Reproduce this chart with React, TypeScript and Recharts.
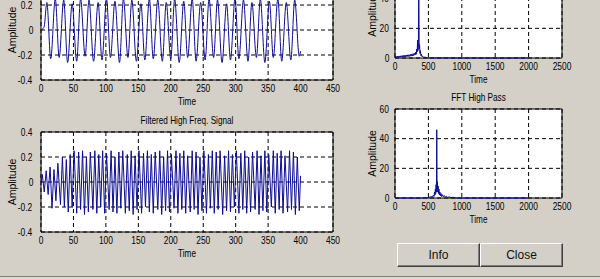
import { LineChart, Line, XAxis, YAxis, CartesianGrid, ReferenceArea } from "recharts";

// time (samples) / amplitude pairs
const rawSignal: [number, number][] = [
  [0, 0], [3, 0.01], [5, 0.03], [9, 0.22], [15, -0.23], [22, 0.25], [28, -0.22], [35, 0.24],
  [41, -0.26], [48, 0.21], [55, -0.25], [61, 0.25], [68, -0.21], [74, 0.24], [81, -0.25],
  [88, 0.22], [94, -0.24], [101, 0.25], [107, -0.22], [114, 0.23], [121, -0.26], [127, 0.25],
  [134, -0.22], [140, 0.24], [147, -0.25], [154, 0.21], [160, -0.24], [167, 0.25], [173, -0.23],
  [180, 0.24], [187, -0.25], [193, 0.22], [200, -0.23], [206, 0.25], [213, -0.26], [220, 0.23],
  [226, -0.22], [233, 0.25], [239, -0.25], [246, 0.22], [253, -0.24], [259, 0.25], [266, -0.22],
  [272, 0.24], [279, -0.26], [286, 0.21], [292, -0.24], [299, 0.25], [305, -0.23], [312, 0.24],
  [319, -0.25], [325, 0.22], [332, -0.22], [338, 0.25], [345, -0.26], [352, 0.23], [358, -0.22],
  [365, 0.25], [371, -0.25], [378, 0.22], [385, -0.24], [391, 0.24], [398, -0.21], [400, -0.17],
];

const filteredSignal: [number, number][] = [
  [0, 0], [2, 0.06], [5, -0.08], [8, 0.09], [11, -0.1], [14, 0.12], [17, -0.21], [20, 0.1],
  [23, -0.15], [26, 0.15], [30, -0.18], [33, 0.2], [36, -0.2], [39, 0.18], [42, -0.24], [45, 0.22],
  [48, -0.2], [51, 0.25], [55, -0.25], [58, 0.24], [61, -0.22], [64, 0.25], [67, -0.26], [70, 0.2],
  [73, -0.24], [76, 0.24], [80, -0.22], [83, 0.25], [86, -0.25], [89, 0.22], [92, -0.2], [95, 0.25],
  [98, -0.25], [101, 0.23], [105, -0.22], [108, 0.25], [111, -0.24], [114, 0.2], [117, -0.25],
  [120, 0.24], [123, -0.21], [126, 0.25], [130, -0.25], [133, 0.22], [136, -0.23], [139, 0.25],
  [142, -0.26], [145, 0.21], [148, -0.22], [151, 0.25], [155, -0.25], [158, 0.23], [161, -0.2],
  [164, 0.25], [167, -0.24], [170, 0.22], [173, -0.25], [176, 0.24], [180, -0.22], [183, 0.25],
  [186, -0.26], [189, 0.2], [192, -0.23], [195, 0.25], [198, -0.24], [201, 0.22], [205, -0.21],
  [208, 0.25], [211, -0.25], [214, 0.23], [217, -0.22], [220, 0.25], [223, -0.25], [226, 0.21],
  [230, -0.24], [233, 0.25], [236, -0.22], [239, 0.24], [242, -0.26], [245, 0.2], [248, -0.23],
  [251, 0.25], [255, -0.25], [258, 0.22], [261, -0.21], [264, 0.25], [267, -0.25], [270, 0.24],
  [273, -0.22], [276, 0.25], [280, -0.26], [283, 0.21], [286, -0.23], [289, 0.25], [292, -0.24],
  [295, 0.22], [298, -0.2], [301, 0.25], [305, -0.25], [308, 0.23], [311, -0.22], [314, 0.25],
  [317, -0.25], [320, 0.2], [323, -0.24], [326, 0.24], [330, -0.22], [333, 0.25], [336, -0.26],
  [339, 0.21], [342, -0.23], [345, 0.25], [348, -0.24], [351, 0.22], [355, -0.2], [358, 0.25],
  [361, -0.25], [364, 0.23], [367, -0.22], [370, 0.25], [373, -0.25], [376, 0.21], [380, -0.24],
  [383, 0.25], [386, -0.22], [389, 0.24], [392, -0.26], [395, 0.2], [398, -0.23], [400, 0.05],
];

// frequency / magnitude pairs
const fftRaw: [number, number][] = [
  [0, 0.3], [8, 1.2], [16, 0.3], [24, 1], [32, 0.4], [40, 1.3], [48, 0.3], [56, 1.1], [64, 0.5],
  [72, 1.4], [80, 0.4], [90, 1.5], [100, 0.6], [110, 1.6], [120, 0.6], [130, 1.8], [140, 0.7],
  [150, 1.9], [160, 0.8], [170, 2], [180, 0.9], [190, 2.1], [200, 1], [210, 2.2], [220, 1.1],
  [230, 2.4], [240, 1.2], [250, 2.6], [260, 1.4], [270, 2.9], [280, 1.6], [290, 3.2], [300, 2],
  [310, 4], [318, 2.5], [325, 6], [332, 4], [338, 12], [344, 5], [350, 8], [356, 55], [362, 6],
  [368, 9], [374, 3], [380, 5], [388, 1.5], [396, 2.5], [405, 0.8], [415, 1.2], [430, 0.4],
  [450, 0.6], [480, 0.2], [520, 0.1], [600, 0.05], [800, 0.05], [1000, 0], [1500, 0], [2000, 0],
];

const fftHighPass: [number, number][] = [
  [0, 0], [400, 0], [480, 0.2], [520, 0.5], [540, 1], [560, 0.5], [575, 2], [585, 1], [592, 4],
  [598, 2], [604, 6], [610, 3], [615, 9], [620, 4], [625, 46], [630, 6], [635, 11], [640, 4],
  [646, 8], [652, 3], [658, 6], [665, 2], [672, 4], [680, 1.5], [690, 3], [700, 1], [712, 2.2],
  [725, 0.8], [740, 1.6], [755, 0.5], [770, 1.2], [790, 0.4], [810, 0.8], [840, 0.2], [870, 0.5],
  [900, 0.1], [1000, 0], [2000, 0],
];

const timeTicks = [0, 50, 100, 150, 200, 250, 300, 350, 400, 450];
const ampTicks = [-0.4, -0.2, 0, 0.2, 0.4];
const freqTicks = [0, 500, 1000, 1500, 2000, 2500];
const magTicks = [0, 20, 40, 60];

const BG = "#d4d0c8";
const BLUE = "#0c0c96";

// old matlab font is tall and narrow, squeeze the glyphs
const squeeze = (k: number): React.CSSProperties => ({
  transform: `scaleX(${k})`,
  transformBox: "fill-box",
  transformOrigin: "center",
});

type PanelProps = {
  left: number;
  top: number;
  width: number;
  height: number;
  yWidth: number;
  rightMargin: number;
  yLabelOffset: number;
  tickMargin: number;
  pts: [number, number][];
  xTicks: number[];
  yTicks: number[];
  title?: string;
  smooth?: boolean;
};

function Panel(p: PanelProps) {
  const rows = p.pts.map(([t, v]) => ({ t, v }));
  const xd: [number, number] = [p.xTicks[0], p.xTicks[p.xTicks.length - 1]];
  const yd: [number, number] = [p.yTicks[0], p.yTicks[p.yTicks.length - 1]];
  const tickStyle = { fill: "#000", fontSize: 10.5, style: squeeze(0.8) };
  return (
    <div style={{ position: "absolute", left: p.left, top: p.top }}>
      <LineChart
        width={p.width}
        height={p.height}
        data={rows}
        margin={{ top: 20, right: p.rightMargin, left: 0, bottom: 3 }}
      >
        <CartesianGrid stroke="#000" strokeDasharray="4 3" fill="#fff" />
        <XAxis
          dataKey="t"
          type="number"
          domain={xd}
          ticks={p.xTicks}
          height={25}
          tickSize={3}
          tickMargin={2}
          tickLine={false}
          axisLine={false}
          tick={tickStyle}
          label={{ value: "Time", position: "insideBottom", offset: 0, fill: "#000", fontSize: 10.5, style: squeeze(0.78) }}
        />
        <YAxis
          type="number"
          domain={yd}
          ticks={p.yTicks}
          width={p.yWidth}
          tickSize={3}
          tickMargin={p.tickMargin}
          tickLine={false}
          axisLine={false}
          tick={tickStyle}
          label={{
            value: "Amplitude",
            angle: -90,
            position: "insideLeft",
            offset: p.yLabelOffset,
            fill: "#000",
            fontSize: 10.5,
            style: { textAnchor: "middle" },
          }}
        />
        <Line
          dataKey="v"
          type={p.smooth ? "monotone" : "linear"}
          stroke={BLUE}
          strokeWidth={1}
          dot={false}
          isAnimationActive={false}
        />
        <ReferenceArea
          x1={xd[0]}
          x2={xd[1]}
          y1={yd[0]}
          y2={yd[1]}
          fill="none"
          stroke="#000"
          strokeWidth={1}
          ifOverflow="visible"
          label={
            p.title
              ? { value: p.title, position: "top", offset: 8, fill: "#000", fontSize: 10.5, style: squeeze(0.78) }
              : undefined
          }
        />
      </LineChart>
    </div>
  );
}

const btn: React.CSSProperties = {
  position: "absolute",
  top: 243,
  width: 83,
  height: 24,
  boxSizing: "border-box",
  background: BG,
  borderStyle: "solid",
  borderWidth: 1,
  borderColor: "#ffffff #404040 #404040 #ffffff",
  boxShadow: "inset -1px -1px 0 #808080",
  display: "flex",
  alignItems: "center",
  justifyContent: "center",
  fontFamily: "'Liberation Sans', Arial, sans-serif",
  fontSize: 12,
  color: "#111",
};

export default function App() {
  return (
    <div
      style={{
        position: "absolute",
        left: 0,
        top: 0,
        width: 600,
        height: 279,
        overflow: "hidden",
        background: BG,
        fontFamily: "'Liberation Sans', Arial, sans-serif",
      }}
    >
      <Panel left={0} top={-40} width={341} height={148} yWidth={41} rightMargin={8}
        yLabelOffset={12} tickMargin={4} pts={rawSignal} xTicks={timeTicks} yTicks={ampTicks} smooth />
      <Panel left={0} top={112} width={341} height={148} yWidth={41} rightMargin={8}
        yLabelOffset={12} tickMargin={4} pts={filteredSignal} xTicks={timeTicks} yTicks={ampTicks}
        title="Filtered High Freq. Signal" />
      <Panel left={355} top={-51} width={222} height={137} yWidth={40} rightMargin={15}
        yLabelOffset={17} tickMargin={2} pts={fftRaw} xTicks={freqTicks} yTicks={magTicks} />
      <Panel left={355} top={89} width={222} height={137} yWidth={40} rightMargin={15}
        yLabelOffset={17} tickMargin={2} pts={fftHighPass} xTicks={freqTicks} yTicks={magTicks}
        title="FFT High Pass" />
      <div style={{ ...btn, left: 397 }}>Info</div>
      <div style={{ ...btn, left: 480 }}>Close</div>
      <div style={{ position: "absolute", left: 0, top: 276, width: 600, height: 1, background: "#808080" }} />
      <div style={{ position: "absolute", left: 0, top: 277, width: 600, height: 2, background: "#dcd9d2" }} />
    </div>
  );
}
